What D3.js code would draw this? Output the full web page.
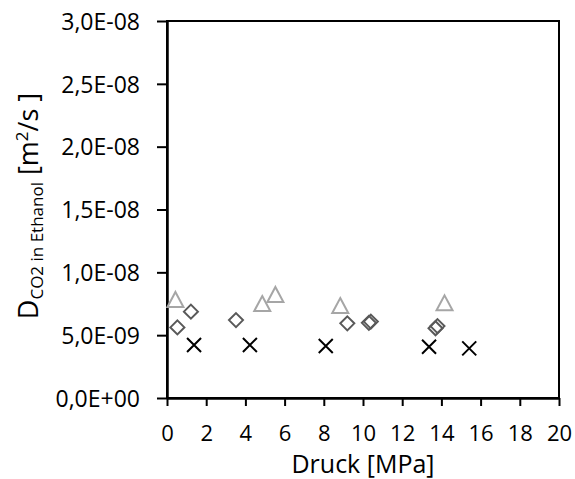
<!DOCTYPE html>
<html>
<head>
<meta charset="utf-8">
<script src="https://cdn.jsdelivr.net/npm/d3@7"></script>
<style>
  body { margin: 0; background: #fff; }
  text { font-family: "Open Sans", sans-serif; fill: #000; }
</style>
</head>
<body>
<script>
var triP = [0.43, 4.86, 5.53, 8.84, 14.16];
var triD = [7.8e-9, 7.48e-9, 8.2e-9, 7.32e-9, 7.53e-9];

var diaP = [0.53, 1.22, 3.52, 9.2, 10.3, 10.4, 13.7, 13.8];
var diaD = [5.62e-9, 6.87e-9, 6.2e-9, 5.94e-9, 5.98e-9, 6.08e-9, 5.55e-9, 5.72e-9];

var crossP = [1.38, 4.23, 8.1, 13.37, 15.42];
var crossD = [4.22e-9, 4.22e-9, 4.14e-9, 4.08e-9, 3.95e-9];

var xTicks = [0, 2, 4, 6, 8, 10, 12, 14, 16, 18, 20];
var yTicks = [0, 5e-9, 1e-8, 1.5e-8, 2e-8, 2.5e-8, 3e-8];

var width = 575, height = 479;
var pLeft = 167, pRight = 559, pTop = 21, pBottom = 398;

var svg = d3.select('body').append('svg').attr('width', width).attr('height', height);

var x = d3.scaleLinear().domain([0, 20]).range([pLeft, pRight]);
var y = d3.scaleLinear().domain([0, 3e-8]).range([pBottom, pTop]);

// Zahlenformat wie in Excel: 3,0E-08
function sci(v) {
  if (v === 0) return '0,0E+00';
  var e = Math.floor(Math.log10(v) + 1e-9);
  var m = v / Math.pow(10, e);
  var es = (e < 0 ? '-' : '+') + String(Math.abs(e)).padStart(2, '0');
  return m.toFixed(1).replace('.', ',') + 'E' + es;
}

// Rahmen
svg.append('rect')
  .attr('x', pLeft).attr('y', pTop)
  .attr('width', pRight - pLeft).attr('height', pBottom - pTop)
  .attr('fill', 'none').attr('stroke', '#000').attr('stroke-width', 2);

var xAxis = svg.append('g')
  .attr('transform', 'translate(0,' + pBottom + ')')
  .call(d3.axisBottom(x).tickValues(xTicks).tickSize(8).tickSizeOuter(0).tickPadding(35));
var yAxis = svg.append('g')
  .attr('transform', 'translate(' + pLeft + ',0)')
  .call(d3.axisLeft(y).tickValues(yTicks).tickFormat(sci).tickSize(10).tickSizeOuter(0).tickPadding(17));

[xAxis, yAxis].forEach(function(a) {
  a.select('.domain').attr('stroke', '#000').attr('stroke-width', 2.5);
  a.selectAll('.tick line').attr('stroke', '#000').attr('stroke-width', 2);
  a.selectAll('.tick text').style('font-size', '23px').attr('fill', '#000');
});
xAxis.selectAll('.tick text').attr('dy', 0).style('font-size', '22px');
yAxis.selectAll('.tick text').attr('dy', '0.36em');

// Achsentitel
svg.append('text')
  .attr('x', (pLeft + pRight) / 2).attr('y', 473)
  .attr('text-anchor', 'middle')
  .style('font-size', '25px')
  .text('Druck [MPa]');

var yl = svg.append('text')
  .attr('transform', 'translate(38,206) rotate(-90)')
  .attr('text-anchor', 'middle')
  .style('font-size', '27px');
yl.append('tspan').text('D');
yl.append('tspan').attr('dy', 5).style('font-size', '17px').text('CO2 in Ethanol');
yl.append('tspan').attr('dy', -5).text(' [m');
yl.append('tspan').attr('dy', -10).style('font-size', '17px').text('2');
yl.append('tspan').attr('dy', 10).text('/s ]');

// Punkte
var tri = triP.map(function(p, i) { return {p: p, d: triD[i]}; });
var dia = diaP.map(function(p, i) { return {p: p, d: diaD[i]}; });
var crs = crossP.map(function(p, i) { return {p: p, d: crossD[i]}; });

svg.selectAll('.tri').data(tri).enter().append('path')
  .attr('d', 'M0,-8L8,7L-8,7Z')
  .attr('transform', function(d) { return 'translate(' + x(d.p) + ',' + y(d.d) + ')'; })
  .attr('fill', 'none').attr('stroke', '#a6a6a6').attr('stroke-width', 2);

svg.selectAll('.dia').data(dia).enter().append('path')
  .attr('d', 'M0,-7L7,0L0,7L-7,0Z')
  .attr('transform', function(d) { return 'translate(' + x(d.p) + ',' + y(d.d) + ')'; })
  .attr('fill', 'none').attr('stroke', '#595959').attr('stroke-width', 2);

svg.selectAll('.crs').data(crs).enter().append('path')
  .attr('d', 'M-7,-7L7,7M-7,7L7,-7')
  .attr('transform', function(d) { return 'translate(' + x(d.p) + ',' + y(d.d) + ')'; })
  .attr('fill', 'none').attr('stroke', '#000').attr('stroke-width', 2);
</script>
</body>
</html>
